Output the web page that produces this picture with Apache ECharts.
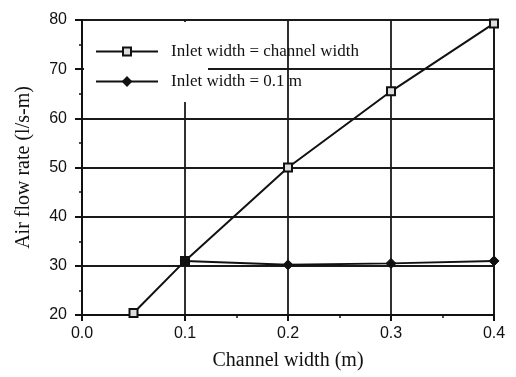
<!DOCTYPE html>
<html>
<head>
<meta charset="utf-8">
<script src="https://cdn.jsdelivr.net/npm/echarts@6/dist/echarts.min.js"></script>
<style>html,body{margin:0;padding:0;background:#fff}#c{width:516px;height:377px}</style>
</head>
<body>
<div id="c"></div>
<script>
const seriesNames = ['Inlet width = channel width', 'Inlet width = 0.1 m'];
const xChannel = [0.05, 0.1, 0.2, 0.3, 0.4];
const yChannel = [20.4, 31.0, 50.0, 65.5, 79.3];
const xFixed = [0.1, 0.2, 0.3, 0.4];
const yFixed = [31.0, 30.2, 30.5, 31.0];
const xTicks = [0.0, 0.1, 0.2, 0.3, 0.4];
const yTicks = [20, 30, 40, 50, 60, 70, 80];

const chart = echarts.init(document.getElementById('c'), null, {renderer: 'canvas'});
const pair = (xs, ys) => xs.map((x, i) => [x, ys[i]]);
const serif = '"Liberation Serif", "DejaVu Serif", serif';
const sans = '"Liberation Sans", Arial, sans-serif';

chart.setOption({
  animation: false,
  backgroundColor: '#fff',
  grid: {left: 82, right: 22, top: 20, bottom: 62, show: true, borderColor: '#111', borderWidth: 2, backgroundColor: 'transparent'},
  graphic: [{
    type: 'rect', z: 1, silent: true,
    shape: {x: 84, y: 22, width: 124, height: 80},
    style: {fill: '#fff'}
  }],
  legend: {
    left: 90, top: 38, orient: 'vertical', itemGap: 13,
    itemWidth: 62, itemHeight: 10,
    textStyle: {fontFamily: serif, fontSize: 17, color: '#111', padding: [0, 0, 0, 8]},
    data: [seriesNames[0], seriesNames[1]]
  },
  xAxis: {
    type: 'value', min: 0, max: 0.4, interval: 0.1,
    name: 'Channel width (m)', nameLocation: 'middle', nameGap: 36,
    nameTextStyle: {fontFamily: serif, fontSize: 20, color: '#111'},
    axisLine: {show: true, lineStyle: {color: '#111', width: 2}},
    axisTick: {show: true, length: 6, inside: false, lineStyle: {color: '#111', width: 2}},
    minorTick: {show: true, splitNumber: 2, length: 3, lineStyle: {color: '#111', width: 1.5}},
    axisLabel: {fontFamily: sans, fontSize: 16, color: '#111', margin: 11, formatter: v => v.toFixed(1)},
    splitLine: {show: true, lineStyle: {color: '#1a1a1a', width: 1.8}}
  },
  yAxis: {
    type: 'value', min: 20, max: 80, interval: 10,
    name: 'Air flow rate (l/s-m)', nameLocation: 'middle', nameGap: 48, nameRotate: 90,
    nameTextStyle: {fontFamily: serif, fontSize: 20, color: '#111'},
    axisLine: {show: true, lineStyle: {color: '#111', width: 2}},
    axisTick: {show: true, length: 7, lineStyle: {color: '#111', width: 2}},
    minorTick: {show: true, splitNumber: 2, length: 3, lineStyle: {color: '#111', width: 1.5}},
    axisLabel: {fontFamily: sans, fontSize: 16, color: '#111', margin: 15},
    splitLine: {show: true, lineStyle: {color: '#1a1a1a', width: 1.8}}
  },
  series: [
    {
      name: seriesNames[0], type: 'line', data: pair(xChannel, yChannel),
      symbol: 'rect', symbolSize: 8,
      lineStyle: {color: '#111', width: 2},
      itemStyle: {color: '#ddd', borderColor: '#111', borderWidth: 2},
      z: 3
    },
    {
      name: seriesNames[1], type: 'line', data: pair(xFixed, yFixed),
      symbol: 'diamond', symbolSize: 10,
      lineStyle: {color: '#111', width: 2},
      itemStyle: {color: '#111', borderColor: '#111', borderWidth: 1},
      z: 3
    }
  ]
});
</script>
</body>
</html>
